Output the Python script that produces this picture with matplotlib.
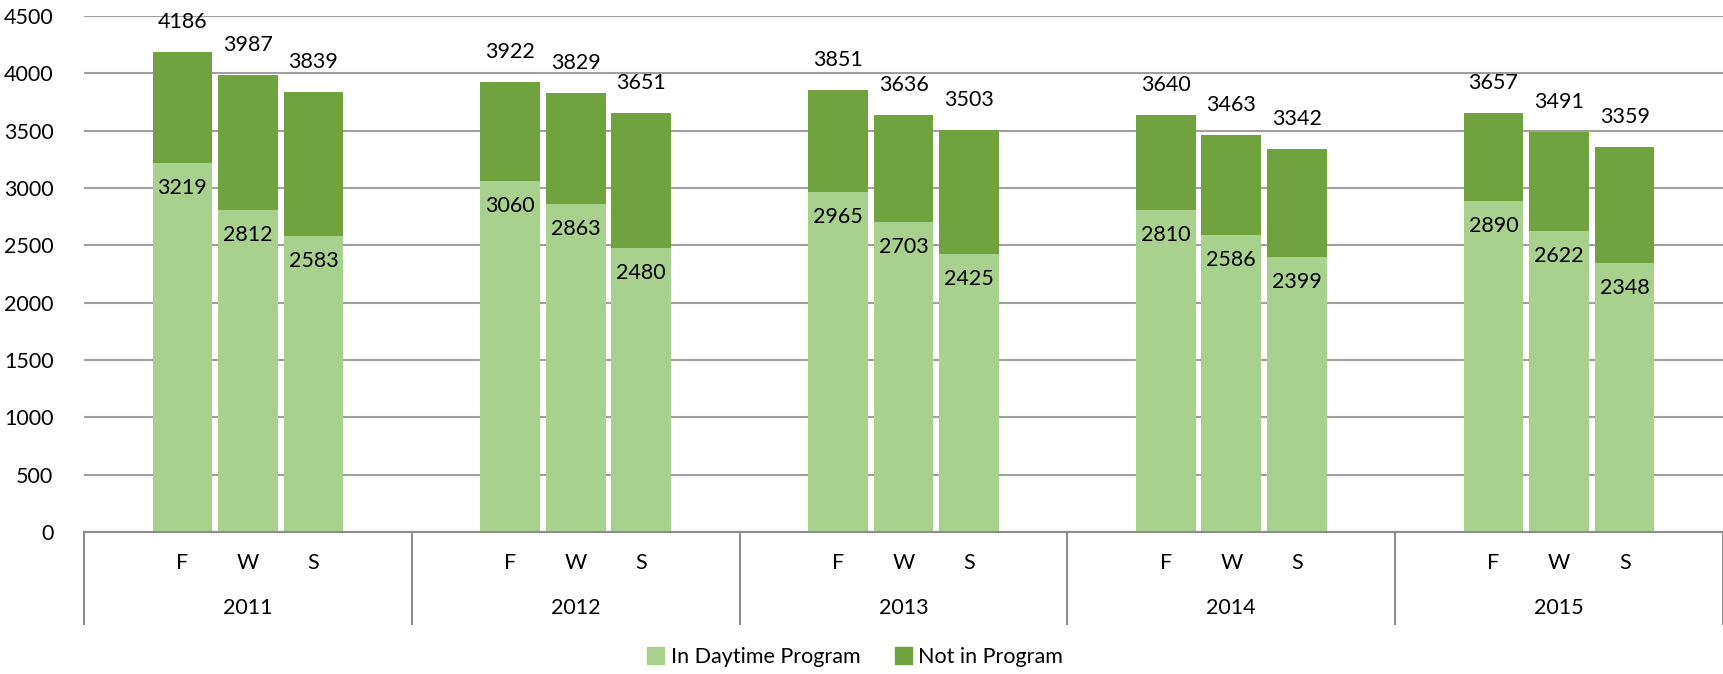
import numpy as np
import matplotlib.pyplot as plt
import matplotlib.transforms as mtransforms
from matplotlib.patches import Patch

plt.rcParams["font.family"] = ["Lato", "DejaVu Sans"]

# Data
years = ["2011", "2012", "2013", "2014", "2015"]
terms = ["F", "W", "S"]
totals = [4186, 3987, 3839, 3922, 3829, 3651, 3851, 3636, 3503,
          3640, 3463, 3342, 3657, 3491, 3359]
daytime = [3219, 2812, 2583, 3060, 2863, 2480, 2965, 2703, 2425,
           2810, 2586, 2399, 2890, 2622, 2348]

LIGHT = "#A9D18E"
DARK = "#70A33F"
GRID = "#A0A0A0"
FS = 15.5

totals = np.array(totals)
daytime = np.array(daytime)
not_in = totals - daytime

W, H = 1723, 674
fig = plt.figure(figsize=(W / 100, H / 100), dpi=100)
left, right, top, bottom = 84, 1723, 16, 532
ax = fig.add_axes([left / W, 1 - bottom / H, (right - left) / W, (bottom - top) / H])

slots = 5
x = np.array([g * slots + 1.5 + i for g in range(len(years)) for i in range(len(terms))])
bw = 0.91
ax.bar(x, daytime, width=bw, color=LIGHT, zorder=2)
ax.bar(x, not_in, width=bw, bottom=daytime, color=DARK, zorder=2)

ax.set_xlim(0, slots * len(years))
ax.set_ylim(0, 4500)
ax.set_yticks(np.arange(0, 4501, 500))
ax.tick_params(axis="y", length=0, labelsize=FS, pad=22)
ax.set_xticks([])
ax.yaxis.grid(True, color=GRID, linewidth=1.5, zorder=0)
for s in ["left", "right", "top"]:
    ax.spines[s].set_visible(False)
ax.spines["bottom"].set_color("#8C8C8C")
ax.spines["bottom"].set_linewidth(1.5)
ax.spines["bottom"].set_zorder(3)

# value labels: totals above the stack, daytime just inside the light bar
for xi, t, d in zip(x, totals, daytime):
    ax.annotate(str(t), (xi, t), xytext=(0, 30), textcoords="offset pixels",
                ha="center", va="center", fontsize=FS)
    ax.annotate(str(d), (xi, d), xytext=(0, -25), textcoords="offset pixels",
                ha="center", va="center", fontsize=FS)

# multi-level category axis
trans = mtransforms.blended_transform_factory(ax.transData, ax.transAxes)
ax_h = bottom - top
sep_bottom = -(624 - bottom) / ax_h
for g in range(len(years) + 1):
    ax.plot([g * slots, g * slots], [0, sep_bottom], transform=trans, color="#8C8C8C",
            linewidth=1.5, clip_on=False)
for xi, lab in zip(x, terms * len(years)):
    ax.text(xi, -(563 - bottom) / ax_h, lab, transform=trans, ha="center", va="center", fontsize=FS)
for g, yr in enumerate(years):
    ax.text(g * slots + slots / 2, -(608 - bottom) / ax_h, yr, transform=trans,
            ha="center", va="center", fontsize=FS)

handles = [Patch(color=LIGHT), Patch(color=DARK)]
fig.legend(handles, ["In Daytime Program", "Not in Program"], loc="center",
           bbox_to_anchor=(855 / W, 1 - 657 / H), ncol=2, frameon=False, fontsize=FS,
           handlelength=0.8, handleheight=0.8, handletextpad=0.3, columnspacing=1.6)

fig.savefig("out.png", dpi=100)
